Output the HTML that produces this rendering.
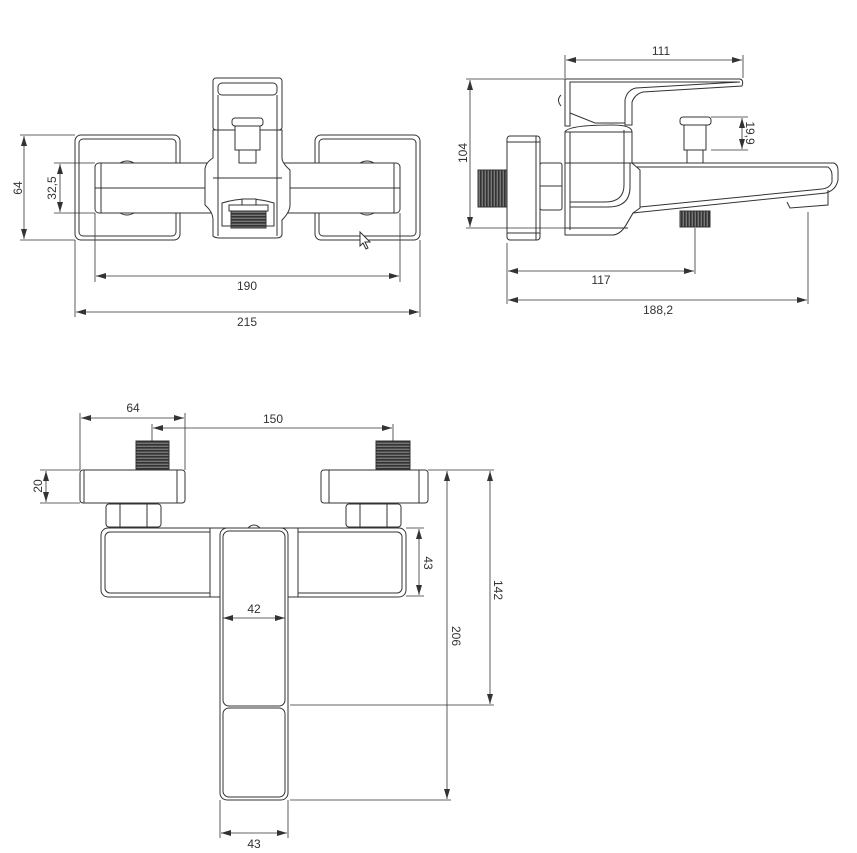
<!DOCTYPE html>
<html><head><meta charset="utf-8"><style>
html,body{margin:0;padding:0;background:#fff;}
svg{display:block;}
text{font-family:"Liberation Sans",sans-serif;font-size:12px;fill:#333;}
</style></head><body>
<svg width="857" height="853" viewBox="0 0 857 853" xmlns="http://www.w3.org/2000/svg">
<defs>
<marker id="a" viewBox="0 0 10 6" refX="10" refY="3" markerWidth="10" markerHeight="6" orient="auto-start-reverse" markerUnits="userSpaceOnUse">
<path d="M0,0 L10,3 L0,6 z" fill="#333"/></marker>
<pattern id="th" width="4" height="3" patternUnits="userSpaceOnUse"><rect width="4" height="3" fill="#777"/><rect width="4" height="1.6" fill="#333"/></pattern>
<pattern id="tv" width="3" height="4" patternUnits="userSpaceOnUse"><rect width="3" height="4" fill="#777"/><rect width="1.6" height="4" fill="#333"/></pattern>
</defs>
<g fill="none" stroke="#333" stroke-width="1">
<!-- ===== VIEW 1 ===== -->
<rect x="75" y="135" width="105" height="105" rx="6" fill="#fff"/>
<rect x="79" y="139" width="97" height="97" rx="4"/>
<rect x="315" y="135" width="105" height="105" rx="6" fill="#fff"/>
<rect x="319" y="139" width="97" height="97" rx="4"/>
<rect x="95" y="163" width="305" height="50" rx="4" fill="#fff"/>
<line x1="101" y1="163" x2="101" y2="213"/>
<line x1="394" y1="163" x2="394" y2="213"/>
<line x1="95" y1="188" x2="400" y2="188"/>
<path d="M120,163 q7,-4 14,0 M120,213 q7,4 14,0 M360,163 q7,-4 14,0 M360,213 q7,4 14,0"/>
<path d="M213,130 L213,158 Q205,163 205,170 L205,205 Q213,212 213,220 L213,236 Q215,238 220,238 L276,238 Q282,238 282,234 L282,220 Q290,212 290,205 L290,170 Q282,163 282,158 L282,130 Z" fill="#fff"/>
<line x1="218" y1="130" x2="218" y2="236"/><line x1="277" y1="130" x2="277" y2="236"/>
<line x1="213" y1="178" x2="282" y2="178"/>
<line x1="213" y1="130" x2="282" y2="130"/>
<rect x="213" y="78" width="69" height="52" rx="3" fill="#fff"/>
<rect x="218" y="83" width="59" height="12" rx="4"/>
<line x1="218" y1="95" x2="218" y2="130"/><line x1="277" y1="95" x2="277" y2="130"/>
<rect x="232" y="118" width="31" height="8" rx="3" fill="#fff"/>
<rect x="235" y="126" width="25" height="24" fill="#fff"/>
<rect x="239" y="150" width="17" height="13" fill="#fff"/>
<path d="M222,203 Q248,195 274,203 L274,226 L222,226 Z" fill="#fff"/>
<rect x="242" y="199" width="14" height="6" fill="#fff"/>
<rect x="229" y="205" width="39" height="6" fill="#fff"/>
<rect x="231" y="211" width="35" height="17" fill="url(#th)"/>
<path d="M360,232 L360,246 L363,243 L366,249 L368,248 L365,242 L370,242 Z" fill="#fff"/>
<g stroke-width="0.8">
<line x1="20" y1="135" x2="75" y2="135"/><line x1="20" y1="240" x2="75" y2="240"/>
<line x1="24" y1="136" x2="24" y2="239" marker-start="url(#a)" marker-end="url(#a)"/>
<line x1="54" y1="163" x2="95" y2="163"/><line x1="54" y1="213" x2="95" y2="213"/>
<line x1="60" y1="164" x2="60" y2="212" marker-start="url(#a)" marker-end="url(#a)"/>
<line x1="95" y1="213" x2="95" y2="282"/><line x1="400" y1="213" x2="400" y2="282"/>
<line x1="96" y1="276" x2="399" y2="276" marker-start="url(#a)" marker-end="url(#a)"/>
<line x1="75" y1="240" x2="75" y2="317"/><line x1="420" y1="240" x2="420" y2="317"/>
<line x1="76" y1="312" x2="419" y2="312" marker-start="url(#a)" marker-end="url(#a)"/>
</g>
<!-- ===== VIEW 2 ===== -->
<rect x="507" y="136" width="33" height="104" rx="3" fill="#fff"/>
<line x1="507" y1="142" x2="540" y2="142"/><line x1="507" y1="233" x2="540" y2="233"/><line x1="536" y1="136" x2="536" y2="240"/>
<rect x="478" y="170" width="29" height="37" fill="url(#tv)"/>
<rect x="540" y="163" width="22" height="47" rx="2" fill="#fff"/>
<line x1="540" y1="186" x2="562" y2="186"/>
<path d="M632,163 L834,163 Q838,165 838,170 L838,180 Q836,190 826,193 L633,213" fill="#fff"/>
<path d="M632,167 L828,167 Q832,170 832,175 L832,182 Q830,188 822,189 L640,207"/>
<path d="M633,213 L626,225 Q620,235 612,235 L565,235"/>
<path d="M787,202 L790,208 L828,205 L828,190"/>
<rect x="680" y="211" width="30" height="16" fill="url(#tv)"/>
<path d="M565,132 L565,235 L612,235 Q620,235 626,225 L633,213 L640,208 L640,170 L632,163 L632,132 Z" fill="#fff"/>
<path d="M565,132 Q568,125 612,125 Q632,125 632,132"/>
<line x1="570" y1="132" x2="570" y2="230"/>
<path d="M570,202 L605,202 Q624,202 624,185 L624,130"/>
<path d="M570,207 L608,207 Q630,207 630,187 L630,163"/>
<line x1="565" y1="163" x2="632" y2="163"/>
<line x1="565" y1="228" x2="628" y2="228"/>
<path d="M565,79 L740,79 Q744,80 742,86 L643,92 Q635,94 632,102 L632,125 L625,125 L625,100 Q627,90 636,88 L740,82" fill="#fff"/>
<path d="M565,79 L565,126 L570,126 L570,82 L738,82"/>
<path d="M570,113 L595,123 L625,123"/>
<path d="M561,95 Q556,100 561,106"/>
<rect x="680" y="117" width="31" height="8" rx="3" fill="#fff"/>
<rect x="684" y="125" width="22" height="25" fill="#fff"/>
<rect x="687" y="150" width="16" height="13" fill="#fff"/>
<g stroke-width="0.8">
<line x1="565" y1="55" x2="565" y2="78"/><line x1="743" y1="55" x2="743" y2="78"/>
<line x1="566" y1="60" x2="742" y2="60" marker-start="url(#a)" marker-end="url(#a)"/>
<line x1="466" y1="79" x2="565" y2="79"/><line x1="466" y1="228" x2="565" y2="228"/>
<line x1="470" y1="80" x2="470" y2="227" marker-start="url(#a)" marker-end="url(#a)"/>
<line x1="711" y1="117" x2="748" y2="117"/><line x1="711" y1="150" x2="748" y2="150"/>
<line x1="742" y1="118" x2="742" y2="149" marker-start="url(#a)" marker-end="url(#a)"/>
<line x1="507" y1="243" x2="507" y2="304"/><line x1="695" y1="228" x2="695" y2="274"/>
<line x1="508" y1="271" x2="694" y2="271" marker-start="url(#a)" marker-end="url(#a)"/>
<line x1="808" y1="212" x2="808" y2="304"/>
<line x1="508" y1="300" x2="807" y2="300" marker-start="url(#a)" marker-end="url(#a)"/>
</g>
<!-- ===== VIEW 3 ===== -->
<rect x="80" y="470" width="105" height="33" rx="3" fill="#fff"/>
<line x1="84" y1="470" x2="84" y2="503"/><line x1="177" y1="470" x2="177" y2="503"/>
<rect x="321" y="470" width="107" height="33" rx="3" fill="#fff"/>
<line x1="329" y1="470" x2="329" y2="503"/><line x1="419" y1="470" x2="419" y2="503"/>
<rect x="136" y="441" width="33" height="29" fill="url(#th)"/>
<rect x="376" y="441" width="34" height="29" fill="url(#th)"/>
<rect x="106" y="504" width="55" height="23" rx="3" fill="#fff"/>
<line x1="120" y1="504" x2="120" y2="527"/><line x1="147" y1="504" x2="147" y2="527"/>
<rect x="346" y="504" width="55" height="23" rx="3" fill="#fff"/>
<line x1="360" y1="504" x2="360" y2="527"/><line x1="387" y1="504" x2="387" y2="527"/>
<rect x="101" y="528" width="305" height="69" rx="7" fill="#fff"/>
<rect x="105" y="532" width="297" height="61" rx="5"/>
<rect x="210" y="530" width="88" height="65" fill="#fff" stroke="none"/>
<path d="M210,528 L210,597 M298,528 L298,597"/>
<path d="M248,528 q6,-6 12,0"/>
<rect x="220" y="528" width="68" height="272" rx="7" fill="#fff"/>
<rect x="223" y="531" width="62" height="175" rx="6"/>
<rect x="223" y="708" width="62" height="89" rx="6"/>
<g stroke-width="0.8">
<line x1="80" y1="413" x2="80" y2="470"/><line x1="185" y1="413" x2="185" y2="470"/>
<line x1="81" y1="418" x2="184" y2="418" marker-start="url(#a)" marker-end="url(#a)"/>
<line x1="152" y1="424" x2="152" y2="441"/><line x1="393" y1="424" x2="393" y2="441"/>
<line x1="153" y1="428" x2="392" y2="428" marker-start="url(#a)" marker-end="url(#a)"/>
<line x1="40" y1="470" x2="80" y2="470"/><line x1="40" y1="503" x2="80" y2="503"/>
<line x1="46" y1="471" x2="46" y2="502" marker-start="url(#a)" marker-end="url(#a)"/>
<line x1="406" y1="528" x2="424" y2="528"/><line x1="406" y1="596" x2="424" y2="596"/>
<line x1="419" y1="529" x2="419" y2="595" marker-start="url(#a)" marker-end="url(#a)"/>
<line x1="428" y1="470" x2="494" y2="470"/>
<line x1="447" y1="471" x2="447" y2="799" marker-start="url(#a)" marker-end="url(#a)"/>
<line x1="490" y1="471" x2="490" y2="704" marker-start="url(#a)" marker-end="url(#a)"/>
<line x1="290" y1="705" x2="494" y2="705"/>
<line x1="290" y1="800" x2="451" y2="800"/>
<line x1="223" y1="618" x2="285" y2="618" marker-start="url(#a)" marker-end="url(#a)"/>
<line x1="220" y1="800" x2="220" y2="838"/><line x1="288" y1="800" x2="288" y2="838"/>
<line x1="221" y1="833" x2="287" y2="833" marker-start="url(#a)" marker-end="url(#a)"/>
</g>
</g>
<text x="18" y="188" text-anchor="middle" transform="rotate(-90 18 188)" dy="4">64</text>
<text x="52" y="188" text-anchor="middle" transform="rotate(-90 52 188)" dy="4">32,5</text>
<text x="247" y="290" text-anchor="middle">190</text>
<text x="247" y="326" text-anchor="middle">215</text>
<text x="661" y="55" text-anchor="middle">111</text>
<text x="463" y="153" text-anchor="middle" transform="rotate(-90 463 153)" dy="4">104</text>
<text x="750" y="133" text-anchor="middle" transform="rotate(90 750 133)" dy="4">19,9</text>
<text x="601" y="284" text-anchor="middle">117</text>
<text x="658" y="314" text-anchor="middle">188,2</text>
<text x="133" y="412" text-anchor="middle">64</text>
<text x="273" y="423" text-anchor="middle">150</text>
<text x="38" y="486" text-anchor="middle" transform="rotate(-90 38 486)" dy="4">20</text>
<text x="428" y="563" text-anchor="middle" transform="rotate(90 428 563)" dy="4">43</text>
<text x="456" y="636" text-anchor="middle" transform="rotate(90 456 636)" dy="4">206</text>
<text x="498" y="590" text-anchor="middle" transform="rotate(90 498 590)" dy="4">142</text>
<text x="254" y="613" text-anchor="middle">42</text>
<text x="254" y="848" text-anchor="middle">43</text>
</svg>
</body></html>
